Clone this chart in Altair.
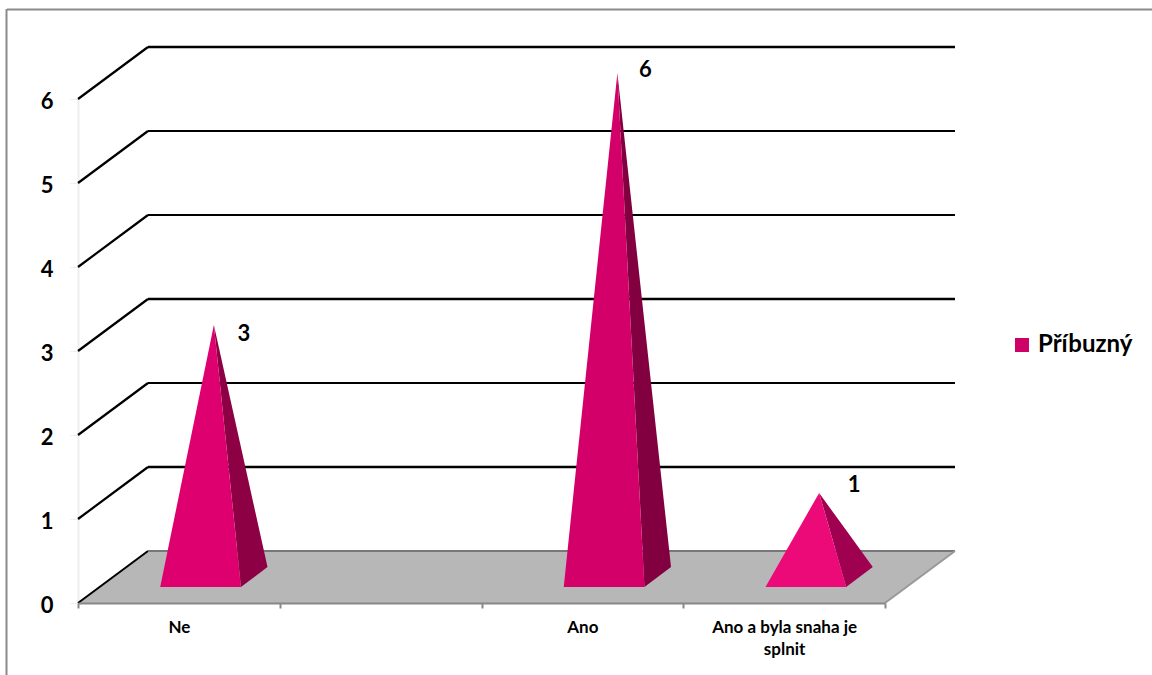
import altair as alt
import pandas as pd

# Chart content
categories = ["Ne", " ", "Ano", "Ano a byla snaha je splnit"]
values = [3, None, 6, 1]
series_name = "Příbuzný"
levels = [1, 2, 3, 4, 5, 6]
level_widths = [2.6, 1.8, 2.6, 1.8, 1.8, 2.6]

# Oblique projection: how far one full unit of depth shifts a point,
# in category bands (x) and value units (y).
DEPTH_X = 70 / 201.75
DEPTH_Y = 52 / 84
HALF_BASE = 0.2  # half of a pyramid's base, in bands
FRONT, MID, BACK = 0.31, 0.5, 0.69  # depth of the pyramid base edges and apex

FRONT_COLORS = ["#DD006E", None, "#D4006A", "#EC0A78"]
SIDE_COLORS = ["#8E0044", None, "#82003F", "#A00050"]
FLOOR_COLOR = "#B7B7B7"
LABEL_NUDGE = [(30, 9), None, (28, -3), (35, -8)]

FONT = "Lato"
N = len(categories)


def proj(u, v, d):
    return u + d * DEPTH_X, v + d * DEPTH_Y


x_q = alt.X("x:Q", axis=None, scale=alt.Scale(domain=[0, N], nice=False, zero=False))
y_q = alt.Y("y:Q", axis=None, stack=None, scale=alt.Scale(domain=[0, 6], nice=False, zero=False))
y2_q = alt.Y2("y2:Q")


def area_layer(rows, color):
    return alt.Chart(pd.DataFrame(rows)).mark_area(color=color, opacity=1, line=False, interpolate="linear").encode(
        x=x_q, y=y_q, y2=y2_q
    )


def line_layer(points, color, width=2):
    rows = [{"x": p[0], "y": p[1], "i": i} for i, p in enumerate(points)]
    return alt.Chart(pd.DataFrame(rows)).mark_line(color=color, strokeWidth=width).encode(
        x=x_q, y=y_q, order="i:O"
    )


layers = []

# Page frame
layers.append(alt.Chart(pd.DataFrame({"a": [0]})).mark_rule(color="#8A8A8A", strokeWidth=2).encode(
    x=alt.value(-71), x2=alt.value(1074), y=alt.value(-89.5)))
layers.append(alt.Chart(pd.DataFrame({"a": [0]})).mark_rule(color="#8A8A8A", strokeWidth=2).encode(
    x=alt.value(-71.5), y=alt.value(-90), y2=alt.value(576)))

# Axes and the legend entry
axis_df = pd.DataFrame({"cat": categories, "y": [0] * N, "series": [series_name] * N})
layers.append(
    alt.Chart(axis_df).mark_square(opacity=0).encode(
        x=alt.X(
            "cat:N",
            sort=categories,
            title=None,
            scale=alt.Scale(domain=categories, paddingInner=0, paddingOuter=0),
            axis=alt.Axis(
                tickBand="extent",
                labelAngle=0,
                labelFont=FONT,
                labelFontWeight="bold",
                labelFontSize=17,
                labelColor="#000000",
                labelPadding=11,
                labelLineHeight=22,
                labelLimit=300,
                labelExpr="datum.value == 'Ano a byla snaha je splnit' ? ['Ano a byla snaha je', 'splnit'] : datum.value",
                domainColor="#888888",
                domainWidth=2,
                tickColor="#888888",
                tickWidth=2,
                tickSize=5,
                grid=False,
                zindex=1,
            ),
        ),
        y=alt.Y(
            "y:Q",
            title=None,
            scale=alt.Scale(domain=[0, 6], nice=False, zero=False),
            axis=alt.Axis(
                values=[0, 1, 2, 3, 4, 5, 6],
                format="d",
                labelFont=FONT,
                labelFontWeight="bold",
                labelFontSize=22,
                labelColor="#000000",
                labelPadding=17,
                labelOffset=2,
                domainColor="#EEEEEE",
                domainWidth=2,
                tickColor="#EEEEEE",
                tickWidth=1,
                tickSize=8,
                grid=False,
            ),
        ),
        color=alt.Color(
            "series:N",
            scale=alt.Scale(domain=[series_name], range=["#CF0068"]),
            legend=alt.Legend(
                title=None,
                orient="none",
                legendX=932,
                legendY=234,
                symbolType="square",
                symbolSize=196,
                symbolOpacity=1,
                symbolStrokeWidth=0,
                labelFont=FONT,
                labelFontWeight="bold",
                labelFontSize=24,
                labelColor="#000000",
                labelOffset=4,
            ),
        ),
    )
)

# Back wall grid lines and their oblique run to the front
for level, width in zip(levels, level_widths):
    layers.append(line_layer([proj(0, level, 0), proj(0, level, 1)], "#000000", 2.2))
    layers.append(line_layer([proj(0, level, 1), proj(N, level, 1)], "#000000", width))

# Floor
p0, p1 = proj(0, 0, 0), proj(0, 0, 1)
p2, p3 = proj(N, 0, 0), proj(N, 0, 1)
layers.append(area_layer(
    [
        {"x": p0[0], "y": p0[1], "y2": p0[1]},
        {"x": p1[0], "y": p1[1], "y2": p0[1]},
        {"x": p2[0], "y": p1[1], "y2": p0[1]},
        {"x": p3[0], "y": p3[1], "y2": p3[1]},
    ],
    FLOOR_COLOR,
))
layers.append(line_layer([p0, p1], "#000000"))
layers.append(line_layer([p1, p3], "#777777"))
layers.append(line_layer([p2, p3], "#999999"))

# Pyramids
for i, value in enumerate(values):
    if value is None:
        continue
    centre = i + 0.5
    left = proj(centre - HALF_BASE, 0, FRONT)
    right = proj(centre + HALF_BASE, 0, FRONT)
    corner = proj(centre + HALF_BASE, 0, BACK)
    apex = proj(centre, value, MID)

    # Side face, seen to the right of the front face
    t = (right[0] - apex[0]) / (corner[0] - apex[0])
    ridge = apex[1] + t * (corner[1] - apex[1])
    layers.append(area_layer(
        [
            {"x": apex[0], "y": apex[1], "y2": apex[1]},
            {"x": right[0], "y": ridge, "y2": right[1]},
            {"x": corner[0], "y": corner[1], "y2": corner[1]},
        ],
        SIDE_COLORS[i],
    ))
    # Front face
    layers.append(area_layer(
        [
            {"x": left[0], "y": left[1], "y2": left[1]},
            {"x": apex[0], "y": apex[1], "y2": left[1]},
            {"x": right[0], "y": right[1], "y2": right[1]},
        ],
        FRONT_COLORS[i],
    ))
    # Value label
    dx, dy = LABEL_NUDGE[i]
    layers.append(
        alt.Chart(pd.DataFrame({"x": [apex[0]], "y": [apex[1]], "label": [str(value)]}))
        .mark_text(font=FONT, fontWeight="bold", fontSize=22, color="#000000", dx=dx, dy=dy, baseline="middle")
        .encode(x=x_q, y=y_q, text="label:N")
    )

chart = (
    alt.layer(*layers)
    .resolve_scale(x="independent")
    .resolve_axis(y="independent")
    .properties(
        width=807,
        height=504,
        padding={"left": 78, "top": 99, "right": 267, "bottom": 72},
        autosize=alt.AutoSizeParams(type="none"),
        background="#FFFFFF",
    )
    .configure_view(stroke=None)
)

chart.save("out.html", embed_options={"renderer": "svg", "actions": False})
